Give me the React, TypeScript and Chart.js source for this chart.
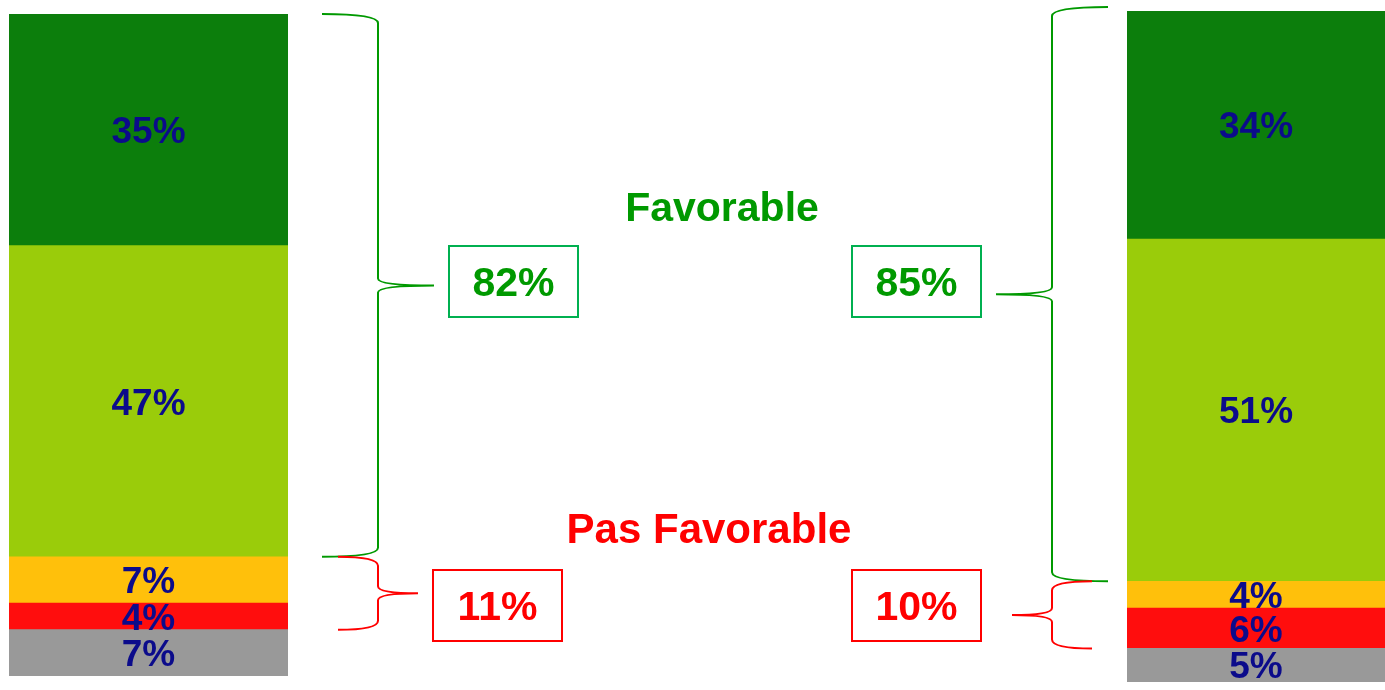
import React, { useEffect, useRef } from "react";
import { Chart, registerables } from "chart.js";

Chart.register(...registerables);

// ---- data (top segment first) ----
const segmentNames = ["Très favorable", "Favorable", "Peu favorable", "Pas favorable", "Sans réponse"];
const leftValues = [35, 47, 7, 4, 7];
const rightValues = [34, 51, 4, 6, 5];
const favorableTotals = [82, 85];
const unfavorableTotals = [11, 10];
const headings = ["Favorable", "Pas Favorable"];

// ---- styles ----
const segmentColors = ["#0C7E0C", "#9ACC0A", "#FFC00B", "#FF0D0D", "#999999"];
const FONT = '"Liberation Sans", Arial, sans-serif';
const LABEL_COLOR = "#0B0B8B";
const GREEN_TEXT = "#009900";
const GREEN_LINE = "#009900";
const GREEN_BOX = "#00B050";
const RED = "#FF0000";
const W = 1385;
const H = 690;

function brace(ctx: CanvasRenderingContext2D, tipX: number, spineX: number, pointX: number, yTop: number, yBot: number, color: string) {
  const yMid = (yTop + yBot) / 2;
  const r = 9;
  ctx.save();
  ctx.strokeStyle = color;
  ctx.lineWidth = 2;
  ctx.beginPath();
  ctx.moveTo(tipX, yTop);
  ctx.quadraticCurveTo(spineX, yTop, spineX, yTop + r);
  ctx.lineTo(spineX, yMid - 7);
  ctx.quadraticCurveTo(spineX, yMid, pointX, yMid);
  ctx.moveTo(pointX, yMid);
  ctx.quadraticCurveTo(spineX, yMid, spineX, yMid + 7);
  ctx.lineTo(spineX, yBot - r);
  ctx.quadraticCurveTo(spineX, yBot, tipX, yBot);
  ctx.stroke();
  ctx.restore();
}

function box(ctx: CanvasRenderingContext2D, x: number, y: number, w: number, h: number, stroke: string, textColor: string, text: string) {
  ctx.save();
  ctx.strokeStyle = stroke;
  ctx.lineWidth = 2;
  ctx.strokeRect(x, y, w, h);
  const size = 41;
  ctx.font = `bold ${size}px ${FONT}`;
  ctx.fillStyle = textColor;
  ctx.textAlign = "center";
  ctx.textBaseline = "alphabetic";
  ctx.fillText(text, x + w / 2, y + h / 2 + size * 0.716 / 2);
  ctx.restore();
}

function heading(ctx: CanvasRenderingContext2D, text: string, x: number, baseline: number, size: number, color: string) {
  ctx.save();
  ctx.font = `bold ${size}px ${FONT}`;
  ctx.fillStyle = color;
  ctx.textAlign = "center";
  ctx.textBaseline = "alphabetic";
  ctx.fillText(text, x, baseline);
  ctx.restore();
}

const labelPlugin = {
  id: "segLabels",
  afterDatasetsDraw(chart: any) {
    const ctx = chart.ctx;
    const size = 37;
    ctx.save();
    ctx.font = `bold ${size}px ${FONT}`;
    ctx.fillStyle = LABEL_COLOR;
    ctx.textAlign = "center";
    ctx.textBaseline = "alphabetic";
    chart.data.datasets.forEach((ds: any, i: number) => {
      const el = chart.getDatasetMeta(i).data[0];
      if (!el) return;
      const cy = (el.y + el.base) / 2;
      ctx.fillText(ds.data[0] + "%", el.x, cy + size * 0.716 / 2);
    });
    ctx.restore();
  },
};

function makeChart(canvas: HTMLCanvasElement, values: number[], padding: any, extras: (chart: any) => void) {
  const order = values.map((_, i) => i).reverse(); // bottom first
  return new Chart(canvas, {
    type: "bar",
    data: {
      labels: [""],
      datasets: order.map((i) => ({
        label: segmentNames[i],
        data: [values[i]],
        backgroundColor: segmentColors[i],
        borderWidth: 0,
        categoryPercentage: 1,
        barPercentage: 1,
      })),
    },
    options: {
      responsive: false,
      animation: false,
      layout: { padding },
      plugins: { legend: { display: false }, tooltip: { enabled: false } },
      scales: {
        x: { stacked: true, display: false },
        y: { stacked: true, display: false, min: 0, max: 100 },
      },
    },
    plugins: [labelPlugin, { id: "extras", afterDraw: extras }],
  });
}

export default function App() {
  const leftRef = useRef<HTMLCanvasElement>(null);
  const rightRef = useRef<HTMLCanvasElement>(null);

  useEffect(() => {
    const left = makeChart(leftRef.current!, leftValues, { left: 9, right: W - 288, top: 14, bottom: H - 676 }, (chart: any) => {
      const ctx = chart.ctx;
      const y = chart.scales.y;
      const r = chart.chartArea.right;
      const fav = favorableTotals[0];
      const unf = unfavorableTotals[0];
      brace(ctx, r + 34, r + 90, r + 146, y.getPixelForValue(100), y.getPixelForValue(100 - fav), GREEN_LINE);
      brace(ctx, r + 50, r + 90, r + 130, y.getPixelForValue(100 - fav), y.getPixelForValue(100 - fav - unf), RED);
      box(ctx, 449, 246, 129, 71, GREEN_BOX, GREEN_TEXT, fav + "%");
      box(ctx, 433, 570, 129, 71, RED, RED, unf + "%");
      heading(ctx, headings[0], 722, 221, 41, GREEN_TEXT);
      heading(ctx, headings[1], 709, 543, 42, RED);
    });
    const right = makeChart(rightRef.current!, rightValues, { left: 1127, right: 0, top: 11, bottom: H - 682 }, (chart: any) => {
      const ctx = chart.ctx;
      const y = chart.scales.y;
      const l = chart.chartArea.left;
      const fav = favorableTotals[1];
      const unf = unfavorableTotals[1];
      brace(ctx, l - 19, l - 75, l - 131, y.getPixelForValue(100) - 4, y.getPixelForValue(100 - fav), GREEN_LINE);
      brace(ctx, l - 35, l - 75, l - 115, y.getPixelForValue(100 - fav), y.getPixelForValue(100 - fav - unf), RED);
      box(ctx, 852, 246, 129, 71, GREEN_BOX, GREEN_TEXT, fav + "%");
      box(ctx, 852, 570, 129, 71, RED, RED, unf + "%");
    });
    return () => {
      left.destroy();
      right.destroy();
    };
  }, []);

  const style: React.CSSProperties = { position: "absolute", left: 0, top: 0, width: W, height: H };
  return (
    <div style={{ position: "fixed", left: 0, top: 0, width: W, height: H, background: "#fff" }}>
      <canvas ref={leftRef} width={W} height={H} style={style} />
      <canvas ref={rightRef} width={W} height={H} style={style} />
    </div>
  );
}
